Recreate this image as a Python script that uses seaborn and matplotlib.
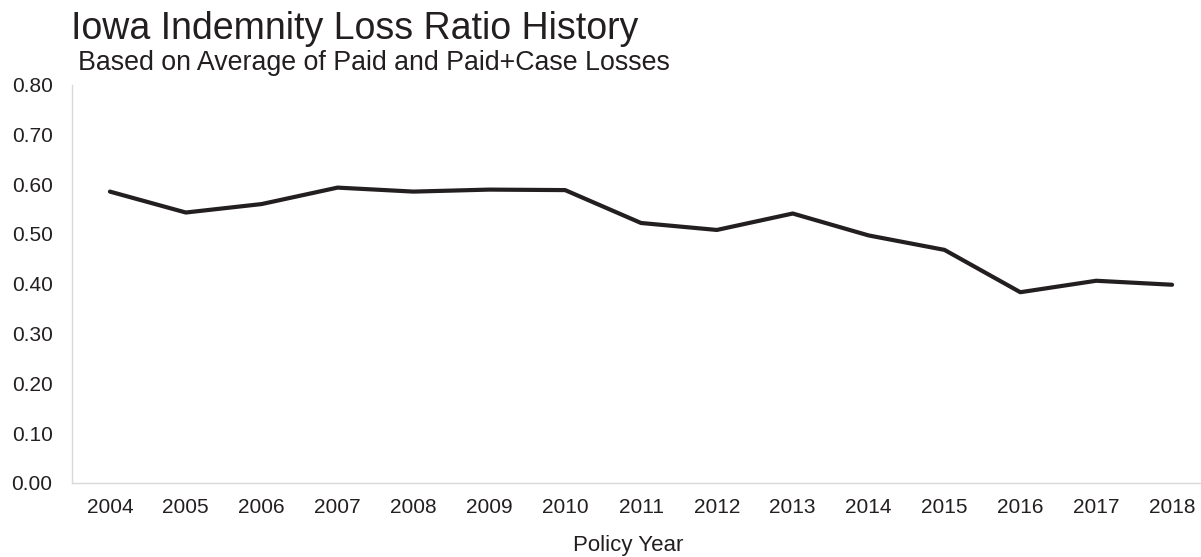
import matplotlib
matplotlib.use("Agg")
import matplotlib.pyplot as plt
import pandas as pd
import seaborn as sns

# values
years = ["2004", "2005", "2006", "2007", "2008", "2009", "2010", "2011",
         "2012", "2013", "2014", "2015", "2016", "2017", "2018"]
loss_ratio = [0.585, 0.543, 0.560, 0.593, 0.585, 0.589, 0.588, 0.522,
              0.508, 0.541, 0.497, 0.468, 0.383, 0.406, 0.398]
y_ticks = [0.0, 0.1, 0.2, 0.3, 0.4, 0.5, 0.6, 0.7, 0.8]

df = pd.DataFrame({"Policy Year": years, "Loss Ratio": loss_ratio})

sns.set_style("white")
plt.rcParams["font.family"] = ["Liberation Sans", "DejaVu Sans"]

fig = plt.figure(figsize=(12.01, 5.57), dpi=100)
ax = fig.add_axes([72 / 1201, 74 / 557, 1138 / 1201, 398.5 / 557])

sns.lineplot(data=df, x="Policy Year", y="Loss Ratio", ax=ax,
             color="#231f20", linewidth=3.0, sort=False)

ax.set_xlim(-0.5, len(years) - 0.5)
ax.set_ylim(0, 0.8)
ax.set_yticks(y_ticks)
ax.set_yticklabels([f"{v:.2f}" for v in y_ticks])
ax.tick_params(axis="both", length=0, labelsize=15, colors="#231f20")
ax.tick_params(axis="x", pad=11)
ax.tick_params(axis="y", pad=14)

for side in ["top", "right"]:
    ax.spines[side].set_visible(False)
for side in ["left", "bottom"]:
    ax.spines[side].set_color("#d9d9d9")
    ax.spines[side].set_linewidth(1.0)

ax.set_xlabel("")
ax.set_ylabel("")

fig.text(71 / 1201, 1 - 29 / 557, "Iowa Indemnity Loss Ratio History",
         fontsize=27, color="#231f20", va="center", ha="left")
fig.text(78 / 1201, 1 - 63 / 557, "Based on Average of Paid and Paid+Case Losses",
         fontsize=19.3, color="#231f20", va="center", ha="left")
fig.text(628 / 1201, 1 - 545 / 557, "Policy Year",
         fontsize=16, color="#231f20", va="center", ha="center")

fig.savefig("out.png", dpi=100)
